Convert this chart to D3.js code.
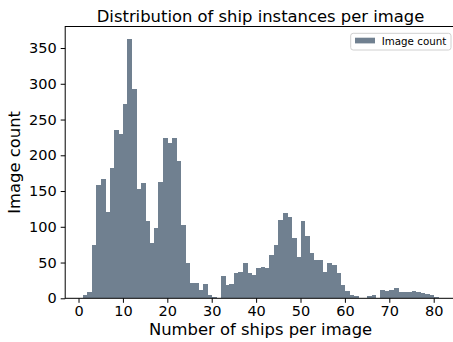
<!DOCTYPE html>
<html lang="en">
<head>
    <meta charset="UTF-8">
    <title>Ship instances per image</title>
    <script src="https://d3js.org/d3.v7.min.js"></script>
    <style>
        body { margin: 0; background: #fff; }
        svg { display: block; font-family: "DejaVu Sans", sans-serif; }
        .axis path, .axis line { stroke: #000; stroke-width: 1; }
        .axis text { fill: #000; font-size: 14.5px; font-family: "DejaVu Sans", sans-serif; }
        .bars rect { shape-rendering: crispEdges; }
    </style>
</head>
<body>
    <svg id="chart"></svg>
    <script>
        // histogram bins: lower edge of each bin (width 1) and the image count in it
        const binStarts = [1, 2, 3, 4, 5, 6, 7, 8, 9, 10, 11, 12, 13, 14, 15, 16, 17, 18, 19, 20,
            21, 22, 23, 24, 25, 26, 27, 28, 29, 30, 31, 32, 33, 34, 35, 36, 37, 38, 39, 40,
            41, 42, 43, 44, 45, 46, 47, 48, 49, 50, 51, 52, 53, 54, 55, 56, 57, 58, 59, 60,
            61, 62, 63, 64, 65, 66, 67, 68, 69, 70, 71, 72, 73, 74, 75, 76, 77, 78, 79, 80];
        const imageCounts = [4, 9, 75, 158, 167, 120, 182, 236, 230, 272, 362, 292, 153, 161, 108, 78, 99, 162, 224, 217,
            224, 192, 102, 49, 22, 21, 11, 20, 5, 2, 0, 31, 19, 20, 36, 37, 49, 36, 32, 42,
            44, 43, 61, 74, 110, 119, 114, 84, 58, 108, 87, 64, 54, 54, 37, 50, 46, 35, 18, 10,
            5, 3, 0, 0, 3, 5, 0, 11, 10, 11, 15, 9, 9, 9, 10, 9, 7, 6, 5, 2];
        const binWidth = 1;
        const xTicks = [0, 10, 20, 30, 40, 50, 60, 70, 80];
        const yTicks = [0, 50, 100, 150, 200, 250, 300, 350];

        const width = 453;
        const height = 342;
        const plot = { left: 65.2, right: 455.9, top: 26.5, bottom: 298.3 };
        const barColor = '#708090';

        const svg = d3.select('#chart')
            .attr('width', width)
            .attr('height', height);

        // matplotlib style 5% margins on x, 5% headroom on y
        const xMin = binStarts[0], xMax = binStarts[binStarts.length - 1] + binWidth;
        const pad = (xMax - xMin) * 0.05;
        const x = d3.scaleLinear().domain([xMin - pad, xMax + pad]).range([plot.left, plot.right]);
        const y = d3.scaleLinear().domain([0, d3.max(imageCounts) * 1.05]).range([plot.bottom, plot.top]);

        const bins = binStarts.map((s, i) => ({ x0: s, x1: s + binWidth, count: imageCounts[i] }));

        svg.append('g')
            .attr('class', 'bars')
            .selectAll('rect')
            .data(bins)
            .join('rect')
            .attr('x', d => x(d.x0))
            .attr('width', d => x(d.x1) - x(d.x0) + 0.5)
            .attr('y', d => y(d.count))
            .attr('height', d => y(0) - y(d.count))
            .attr('fill', barColor);

        // frame
        svg.append('rect')
            .attr('x', plot.left).attr('y', plot.top)
            .attr('width', plot.right - plot.left).attr('height', plot.bottom - plot.top)
            .attr('fill', 'none').attr('stroke', '#000').attr('stroke-width', 1);

        svg.append('g')
            .attr('class', 'axis')
            .attr('transform', `translate(0,${plot.bottom})`)
            .call(d3.axisBottom(x).tickValues(xTicks).tickSize(4.5).tickPadding(3))
            .call(g => g.select('.domain').remove());

        svg.append('g')
            .attr('class', 'axis')
            .attr('transform', `translate(${plot.left},0)`)
            .call(d3.axisLeft(y).tickValues(yTicks).tickSize(4.5).tickPadding(4))
            .call(g => g.select('.domain').remove());

        svg.append('text')
            .attr('x', (plot.left + plot.right) / 2)
            .attr('y', 21.5)
            .attr('text-anchor', 'middle')
            .attr('font-size', '16.4px')
            .attr('fill', '#000')
            .text('Distribution of ship instances per image');

        svg.append('text')
            .attr('x', (plot.left + plot.right) / 2)
            .attr('y', 335)
            .attr('text-anchor', 'middle')
            .attr('font-size', '16.4px')
            .attr('fill', '#000')
            .text('Number of ships per image');

        svg.append('text')
            .attr('transform', `translate(19.5,${(plot.top + plot.bottom) / 2}) rotate(-90)`)
            .attr('text-anchor', 'middle')
            .attr('font-size', '16.4px')
            .attr('fill', '#000')
            .text('Image count');

        // legend
        const legend = svg.append('g').attr('transform', 'translate(350.7,33.3)');
        legend.append('rect')
            .attr('width', 100.3).attr('height', 16.7)
            .attr('rx', 2.5)
            .attr('fill', '#fff').attr('fill-opacity', 0.8)
            .attr('stroke', '#d0d0d0').attr('stroke-width', 1);
        legend.append('rect')
            .attr('x', 4.3).attr('y', 4.4)
            .attr('width', 20).attr('height', 5.7)
            .attr('fill', barColor);
        legend.append('text')
            .attr('x', 31).attr('y', 11.3)
            .attr('font-size', '10.3px')
            .attr('fill', '#000')
            .text('Image count');
    </script>
</body>
</html>
